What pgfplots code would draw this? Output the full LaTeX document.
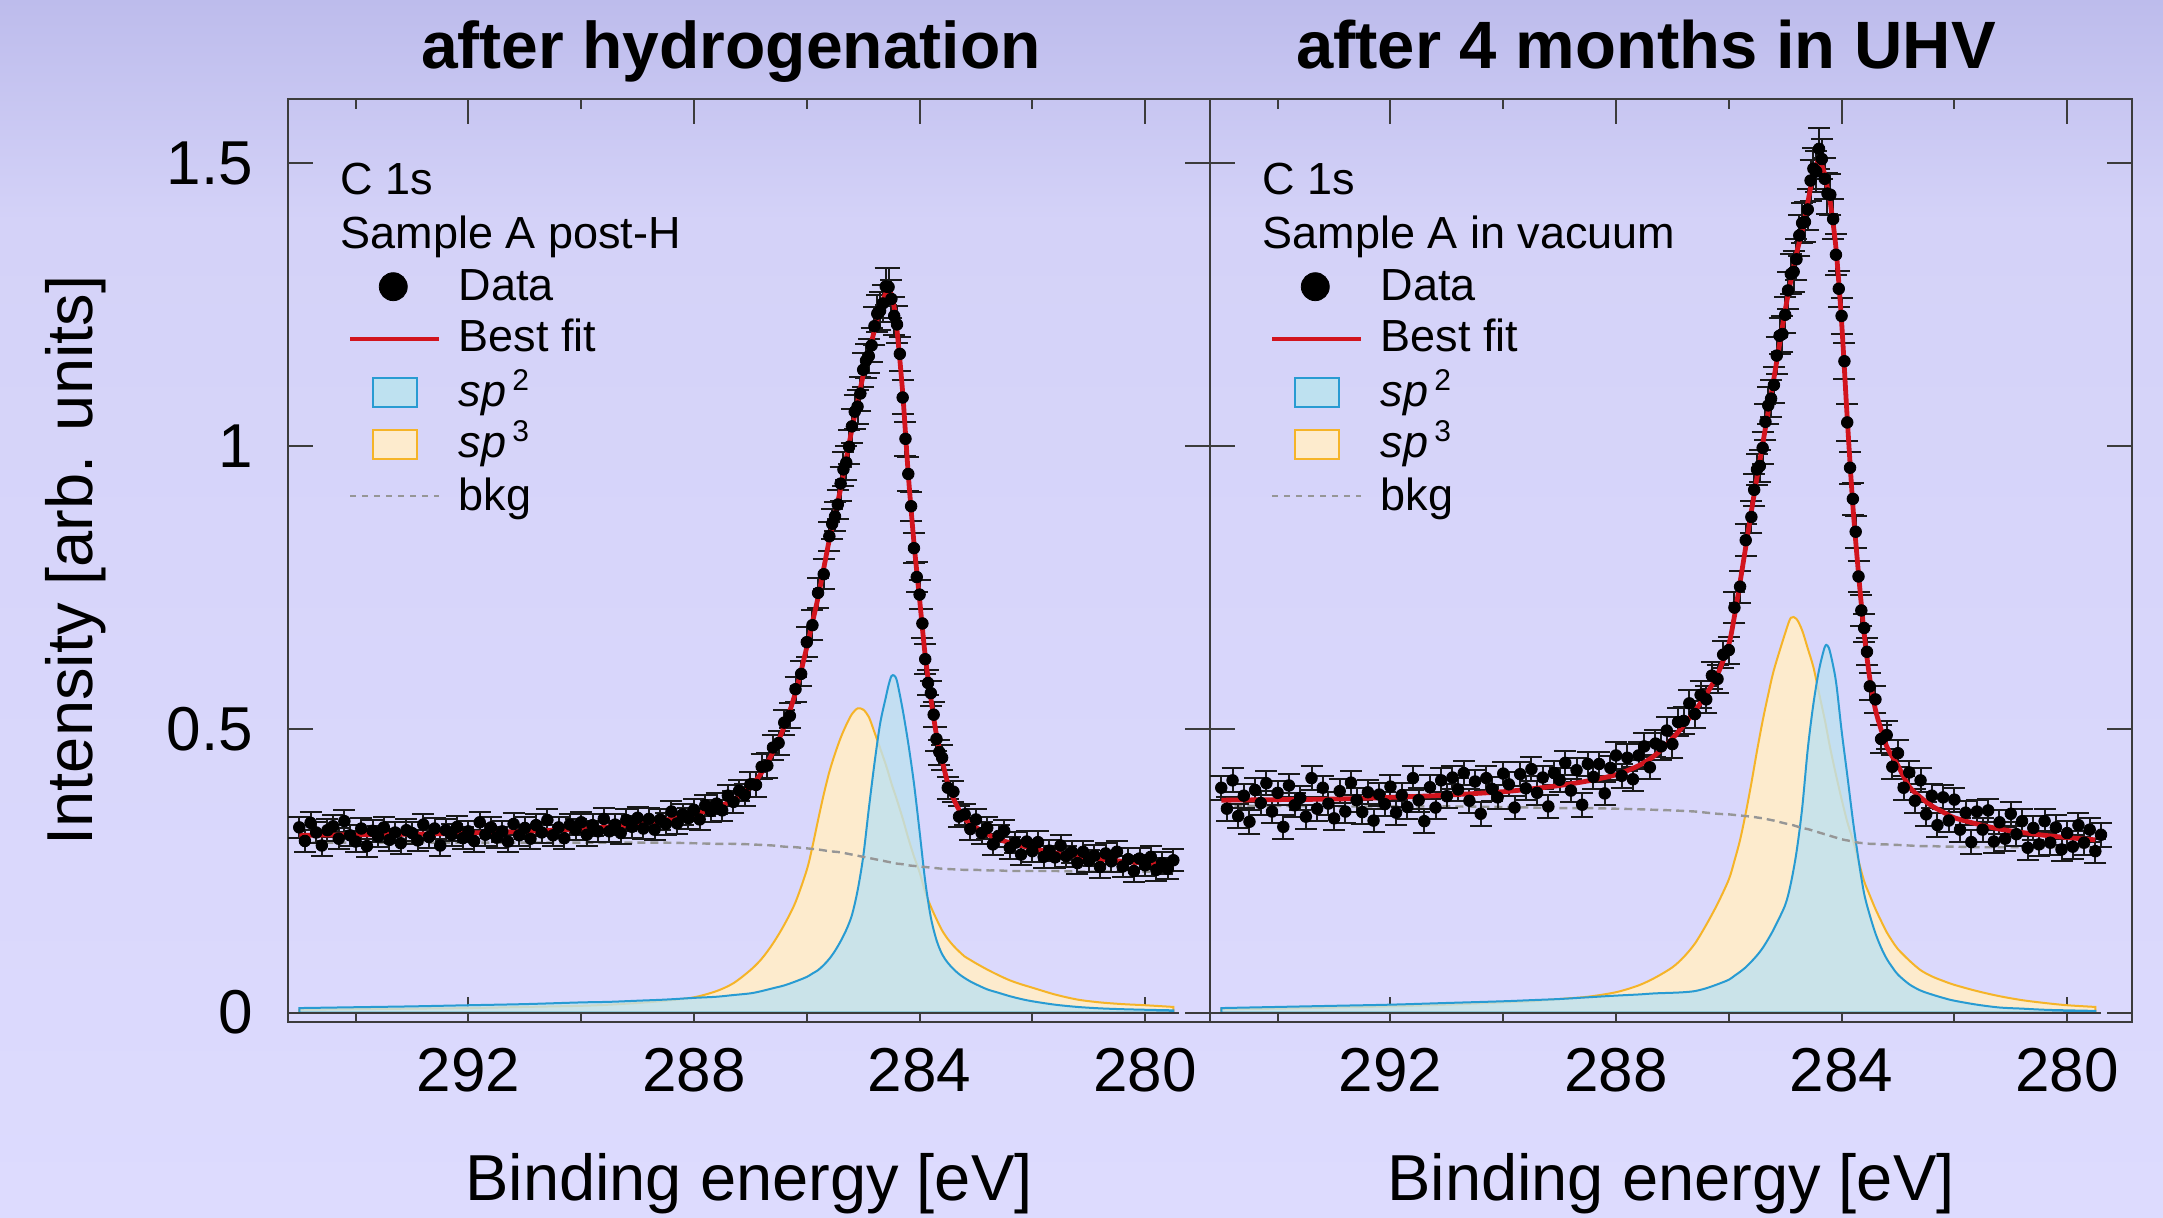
\documentclass[border=0pt]{standalone}
\usepackage{pgfplots}
\pgfplotsset{compat=1.18}
\usepackage{pgfplotstable}
\usepackage{fontspec}
\setmainfont{Liberation Sans}

\definecolor{bgtop}{RGB}{189,188,236}
\definecolor{bgmid}{RGB}{212,210,248}
\definecolor{bgbot}{RGB}{221,219,254}
\definecolor{fitred}{RGB}{210,20,30}
\definecolor{sptwoline}{RGB}{40,155,210}
\definecolor{sptwofill}{RGB}{190,225,240}
\definecolor{spthreeline}{RGB}{245,180,40}
\definecolor{spthreefill}{RGB}{253,235,205}
\definecolor{bkgcol}{RGB}{150,150,150}
\definecolor{framecol}{RGB}{60,60,60}

% ---------- panel 1: fit components ----------
\pgfplotstableread{
x fit bkg sp2 sp3
295.0 0.313 0.300 0.008 0.005
294.0 0.314 0.300 0.0095 0.006
293.0 0.315 0.300 0.011 0.007
292.0 0.317 0.300 0.013 0.008
291.0 0.320 0.300 0.015 0.010
290.0 0.324 0.300 0.018 0.012
289.5 0.328 0.300 0.019 0.014
289.0 0.333 0.300 0.021 0.017
288.5 0.340 0.300 0.023 0.021
288.0 0.350 0.299 0.026 0.027
287.6 0.362 0.298 0.028 0.038
287.3 0.376 0.298 0.031 0.052
287.0 0.398 0.297 0.034 0.075
286.8 0.424 0.296 0.038 0.095
286.6 0.460 0.295 0.043 0.122
286.4 0.505 0.293 0.048 0.155
286.2 0.565 0.292 0.055 0.195
286.0 0.645 0.290 0.063 0.252
285.9 0.689 0.289 0.069 0.293
285.8 0.733 0.288 0.075 0.340
285.7 0.784 0.2865 0.084 0.385
285.6 0.835 0.285 0.095 0.425
285.5 0.880 0.284 0.109 0.457
285.4 0.925 0.283 0.126 0.485
285.3 0.978 0.281 0.146 0.508
285.2 1.030 0.279 0.172 0.527
285.1 1.078 0.277 0.215 0.537
285.0 1.125 0.275 0.275 0.535
284.9 1.165 0.273 0.360 0.522
284.8 1.205 0.271 0.440 0.495
284.7 1.243 0.269 0.510 0.467
284.6 1.270 0.267 0.556 0.438
284.55 1.276 0.266 0.578 0.422
284.5 1.268 0.265 0.594 0.405
284.45 1.245 0.264 0.595 0.390
284.4 1.205 0.263 0.585 0.375
284.3 1.095 0.262 0.535 0.343
284.2 0.950 0.260 0.475 0.308
284.1 0.830 0.259 0.405 0.276
284.0 0.730 0.258 0.320 0.248
283.9 0.630 0.257 0.232 0.213
283.8 0.555 0.256 0.168 0.187
283.7 0.490 0.255 0.128 0.165
283.6 0.445 0.254 0.103 0.145
283.5 0.405 0.2535 0.088 0.130
283.4 0.378 0.253 0.077 0.118
283.3 0.358 0.2525 0.068 0.108
283.2 0.342 0.252 0.061 0.099
283.1 0.334 0.252 0.055 0.093
283.0 0.327 0.252 0.050 0.087
282.8 0.315 0.251 0.041 0.076
282.6 0.306 0.251 0.035 0.066
282.4 0.300 0.250 0.029 0.057
282.2 0.295 0.250 0.024 0.050
282.0 0.290 0.250 0.020 0.044
281.6 0.282 0.250 0.014 0.032
281.2 0.276 0.249 0.010 0.023
280.8 0.271 0.249 0.0075 0.018
280.4 0.267 0.249 0.006 0.015
280.0 0.264 0.249 0.005 0.013
279.5 0.260 0.249 0.004 0.010
}\compA

% ---------- panel 1: data ----------
\pgfplotstableread{
x y e
295.0 0.327 0.019
294.9 0.303 0.019
294.8 0.335 0.019
294.7 0.318 0.019
294.6 0.295 0.019
294.5 0.322 0.019
294.4 0.329 0.019
294.3 0.307 0.019
294.2 0.338 0.019
294.1 0.313 0.019
294.0 0.302 0.019
293.9 0.325 0.019
293.8 0.294 0.019
293.7 0.321 0.019
293.6 0.311 0.019
293.5 0.327 0.019
293.4 0.305 0.019
293.3 0.318 0.019
293.2 0.299 0.019
293.1 0.322 0.019
293.0 0.317 0.019
292.9 0.304 0.019
292.8 0.332 0.019
292.7 0.310 0.019
292.6 0.325 0.019
292.5 0.295 0.019
292.4 0.322 0.019
292.3 0.314 0.019
292.2 0.328 0.019
292.1 0.308 0.019
292.0 0.320 0.019
291.9 0.303 0.019
291.8 0.336 0.019
291.7 0.314 0.019
291.6 0.327 0.019
291.5 0.309 0.019
291.4 0.320 0.019
291.3 0.302 0.019
291.2 0.333 0.019
291.1 0.313 0.019
291.0 0.326 0.019
290.9 0.307 0.019
290.8 0.331 0.019
290.7 0.318 0.019
290.6 0.340 0.019
290.5 0.313 0.019
290.4 0.327 0.019
290.3 0.308 0.019
290.2 0.332 0.019
290.1 0.323 0.019
290.0 0.336 0.019
289.9 0.314 0.019
289.8 0.331 0.019
289.7 0.320 0.019
289.6 0.342 0.019
289.5 0.320 0.019
289.4 0.332 0.019
289.3 0.317 0.019
289.2 0.340 0.019
289.1 0.328 0.019
289.0 0.344 0.019
288.9 0.325 0.019
288.8 0.342 0.019
288.7 0.323 0.019
288.6 0.341 0.019
288.5 0.333 0.019
288.4 0.355 0.019
288.3 0.334 0.019
288.2 0.350 0.019
288.1 0.343 0.019
288.0 0.358 0.019
287.9 0.341 0.019
287.8 0.366 0.019
287.7 0.356 0.019
287.6 0.369 0.019
287.5 0.357 0.019
287.4 0.383 0.019
287.3 0.372 0.019
287.2 0.392 0.019
287.1 0.384 0.019
287.0 0.403 0.022
286.9 0.402 0.022
286.8 0.434 0.022
286.7 0.436 0.022
286.6 0.468 0.022
286.5 0.476 0.022
286.4 0.512 0.022
286.3 0.524 0.022
286.2 0.571 0.022
286.1 0.598 0.022
286.0 0.654 0.026
285.9 0.684 0.026
285.8 0.741 0.026
285.7 0.774 0.026
285.6 0.841 0.026
285.55 0.863 0.026
285.5 0.876 0.026
285.45 0.897 0.026
285.4 0.934 0.030
285.35 0.959 0.030
285.3 0.971 0.030
285.25 0.999 0.030
285.2 1.035 0.030
285.15 1.061 0.030
285.1 1.070 0.030
285.05 1.093 0.030
285.0 1.135 0.030
284.95 1.151 0.030
284.9 1.159 0.030
284.85 1.178 0.030
284.8 1.212 0.033
284.75 1.234 0.033
284.7 1.239 0.033
284.65 1.252 0.033
284.6 1.282 0.033
284.55 1.281 0.033
284.5 1.260 0.033
284.45 1.230 0.033
284.4 1.215 0.033
284.35 1.163 0.030
284.3 1.086 0.030
284.25 1.013 0.030
284.2 0.951 0.030
284.15 0.894 0.026
284.1 0.820 0.026
284.05 0.769 0.026
284.0 0.738 0.026
283.95 0.687 0.026
283.9 0.624 0.026
283.85 0.582 0.022
283.8 0.564 0.022
283.75 0.526 0.022
283.7 0.483 0.022
283.65 0.460 0.022
283.6 0.450 0.022
283.5 0.397 0.019
283.4 0.390 0.019
283.3 0.346 0.019
283.2 0.350 0.019
283.1 0.324 0.019
283.0 0.341 0.019
282.9 0.317 0.019
282.8 0.326 0.019
282.7 0.297 0.019
282.6 0.312 0.019
282.5 0.321 0.019
282.4 0.291 0.019
282.3 0.300 0.019
282.2 0.279 0.019
282.1 0.302 0.019
282.0 0.285 0.019
281.9 0.301 0.019
281.8 0.275 0.019
281.7 0.286 0.019
281.6 0.274 0.019
281.5 0.295 0.019
281.4 0.276 0.019
281.3 0.284 0.019
281.2 0.264 0.019
281.1 0.284 0.019
281.0 0.268 0.019
280.9 0.277 0.019
280.8 0.257 0.019
280.7 0.281 0.019
280.6 0.267 0.019
280.5 0.284 0.019
280.4 0.258 0.019
280.3 0.271 0.019
280.2 0.250 0.019
280.1 0.272 0.019
280.0 0.260 0.019
279.9 0.275 0.019
279.8 0.252 0.019
279.7 0.264 0.019
279.6 0.254 0.019
279.5 0.269 0.019
}\dataA

% ---------- panel 2: fit components ----------
\pgfplotstableread{
x fit bkg sp2 sp3
295.0 0.375 0.365 0.008 0.006
294.0 0.376 0.365 0.010 0.007
293.0 0.377 0.364 0.012 0.009
292.0 0.380 0.364 0.014 0.011
291.0 0.384 0.364 0.017 0.014
290.0 0.390 0.363 0.020 0.018
289.5 0.395 0.362 0.022 0.020
289.0 0.401 0.361 0.024 0.024
288.5 0.409 0.361 0.027 0.028
288.0 0.420 0.360 0.030 0.036
287.6 0.436 0.359 0.032 0.048
287.3 0.455 0.358 0.034 0.062
287.0 0.484 0.357 0.035 0.080
286.8 0.507 0.356 0.036 0.098
286.6 0.533 0.355 0.038 0.122
286.4 0.562 0.353 0.043 0.155
286.2 0.597 0.351 0.050 0.192
286.0 0.650 0.350 0.058 0.235
285.9 0.700 0.349 0.065 0.268
285.8 0.760 0.348 0.072 0.305
285.7 0.822 0.347 0.080 0.352
285.6 0.885 0.346 0.090 0.405
285.5 0.945 0.3445 0.101 0.462
285.4 1.003 0.343 0.114 0.515
285.3 1.062 0.341 0.130 0.562
285.2 1.120 0.339 0.148 0.605
285.0 1.240 0.334 0.190 0.670
284.9 1.292 0.332 0.228 0.697
284.8 1.340 0.329 0.283 0.695
284.7 1.380 0.326 0.360 0.675
284.6 1.430 0.324 0.465 0.643
284.5 1.480 0.321 0.545 0.610
284.4 1.505 0.318 0.605 0.564
284.3 1.480 0.315 0.645 0.518
284.25 1.455 0.314 0.648 0.492
284.2 1.430 0.312 0.635 0.466
284.1 1.350 0.309 0.585 0.420
284.0 1.220 0.306 0.498 0.377
283.9 1.050 0.304 0.420 0.337
283.8 0.895 0.302 0.340 0.305
283.7 0.775 0.300 0.270 0.268
283.6 0.670 0.299 0.210 0.232
283.5 0.590 0.298 0.172 0.207
283.4 0.535 0.298 0.140 0.183
283.3 0.500 0.297 0.115 0.162
283.2 0.470 0.297 0.095 0.142
283.1 0.452 0.296 0.080 0.126
283.0 0.436 0.296 0.067 0.112
282.8 0.399 0.295 0.050 0.092
282.6 0.380 0.294 0.039 0.075
282.4 0.365 0.294 0.032 0.064
282.2 0.354 0.293 0.026 0.056
282.0 0.344 0.293 0.021 0.049
281.6 0.333 0.292 0.014 0.038
281.2 0.324 0.292 0.009 0.029
280.8 0.318 0.292 0.007 0.022
280.4 0.313 0.292 0.005 0.017
280.0 0.309 0.292 0.004 0.013
279.5 0.305 0.292 0.003 0.010
}\compB

% ---------- panel 2: data ----------
\pgfplotstableread{
x y e
295.0 0.397 0.021
294.9 0.360 0.021
294.8 0.410 0.021
294.7 0.347 0.021
294.6 0.383 0.021
294.5 0.337 0.021
294.4 0.393 0.021
294.3 0.370 0.021
294.2 0.405 0.021
294.1 0.355 0.021
294.0 0.388 0.021
293.9 0.328 0.021
293.8 0.401 0.021
293.7 0.366 0.021
293.6 0.379 0.021
293.5 0.346 0.021
293.4 0.414 0.021
293.3 0.360 0.021
293.2 0.397 0.021
293.1 0.369 0.021
293.0 0.343 0.021
292.9 0.391 0.021
292.8 0.355 0.021
292.7 0.406 0.021
292.6 0.375 0.021
292.5 0.354 0.021
292.4 0.389 0.021
292.3 0.339 0.021
292.2 0.385 0.021
292.1 0.368 0.021
292.0 0.399 0.021
291.9 0.353 0.021
291.8 0.384 0.021
291.7 0.363 0.021
291.6 0.414 0.021
291.5 0.375 0.021
291.4 0.338 0.021
291.3 0.398 0.021
291.2 0.362 0.021
291.1 0.410 0.021
291.0 0.382 0.021
290.9 0.415 0.021
290.8 0.394 0.021
290.7 0.423 0.021
290.6 0.374 0.021
290.5 0.408 0.021
290.4 0.351 0.021
290.3 0.414 0.021
290.2 0.395 0.021
290.1 0.380 0.021
290.0 0.422 0.021
289.9 0.403 0.021
289.8 0.362 0.021
289.7 0.421 0.021
289.6 0.396 0.021
289.5 0.430 0.021
289.4 0.388 0.021
289.3 0.415 0.021
289.2 0.364 0.021
289.1 0.423 0.021
289.0 0.411 0.021
288.9 0.441 0.021
288.8 0.392 0.021
288.7 0.428 0.021
288.6 0.367 0.021
288.5 0.439 0.021
288.4 0.416 0.021
288.3 0.439 0.021
288.2 0.387 0.021
288.1 0.432 0.021
288.0 0.454 0.024
287.9 0.418 0.021
287.8 0.450 0.024
287.7 0.412 0.021
287.6 0.454 0.024
287.5 0.470 0.024
287.4 0.433 0.021
287.3 0.475 0.024
287.2 0.470 0.024
287.1 0.498 0.024
287.0 0.474 0.024
286.9 0.513 0.024
286.8 0.515 0.024
286.7 0.546 0.024
286.6 0.527 0.024
286.5 0.561 0.024
286.4 0.553 0.024
286.3 0.595 0.024
286.2 0.589 0.024
286.1 0.632 0.024
286.0 0.640 0.024
285.9 0.715 0.028
285.8 0.752 0.028
285.7 0.834 0.028
285.6 0.875 0.028
285.55 0.923 0.028
285.5 0.959 0.028
285.45 0.965 0.028
285.4 0.997 0.028
285.35 1.043 0.032
285.3 1.072 0.032
285.25 1.084 0.032
285.2 1.108 0.032
285.15 1.160 0.032
285.1 1.195 0.032
285.05 1.198 0.032
285.0 1.232 0.032
284.95 1.275 0.032
284.9 1.304 0.036
284.85 1.308 0.036
284.8 1.330 0.036
284.75 1.372 0.036
284.7 1.394 0.036
284.65 1.396 0.036
284.6 1.418 0.036
284.55 1.469 0.036
284.5 1.490 0.036
284.45 1.485 0.036
284.4 1.525 0.036
284.35 1.507 0.036
284.3 1.472 0.036
284.25 1.446 0.036
284.2 1.444 0.036
284.15 1.401 0.036
284.1 1.338 0.036
284.05 1.278 0.032
284.0 1.230 0.032
283.95 1.150 0.032
283.9 1.042 0.032
283.85 0.962 0.028
283.8 0.907 0.028
283.75 0.849 0.028
283.7 0.770 0.028
283.65 0.710 0.028
283.6 0.679 0.024
283.55 0.637 0.024
283.5 0.576 0.024
283.4 0.553 0.024
283.3 0.483 0.024
283.2 0.490 0.024
283.1 0.434 0.021
283.0 0.458 0.024
282.9 0.397 0.021
282.8 0.424 0.021
282.7 0.374 0.021
282.6 0.410 0.021
282.5 0.350 0.021
282.4 0.383 0.021
282.3 0.331 0.021
282.2 0.380 0.021
282.1 0.339 0.021
282.0 0.376 0.021
281.9 0.323 0.021
281.8 0.353 0.021
281.7 0.301 0.021
281.6 0.355 0.021
281.5 0.323 0.021
281.4 0.357 0.021
281.3 0.302 0.021
281.2 0.336 0.021
281.1 0.307 0.021
281.0 0.351 0.021
280.9 0.315 0.021
280.8 0.338 0.021
280.7 0.291 0.021
280.6 0.326 0.021
280.5 0.297 0.021
280.4 0.338 0.021
280.3 0.300 0.021
280.2 0.327 0.021
280.1 0.288 0.021
280.0 0.317 0.021
279.9 0.293 0.021
279.8 0.331 0.021
279.7 0.300 0.021
279.6 0.323 0.021
279.5 0.285 0.021
279.4 0.314 0.021
}\dataB

\newcommand{\legfont}{\fontsize{22.5}{26}\selectfont}
\newcommand{\labfont}{\fontsize{32.5}{38}\selectfont}
\newcommand{\spsup}[1]{\textit{sp}\hspace{3pt}\raisebox{8.4pt}{\fontsize{15}{15}\selectfont #1}}

\pgfplotsset{
  xpsaxis/.style={
    scale only axis, width=461pt, height=461.5pt,
    xmin=278.85, xmax=295.2, x dir=reverse,
    ymin=-0.0166, ymax=1.613,
    xtick={280,284,288,292}, minor xtick={282,286,290,294},
    ytick={0,0.5,1,1.5},
    tick align=inside,
    major tick length=12.5pt, minor tick length=5pt,
    tick style={framecol, line width=1pt},
    axis line style={framecol, line width=1pt},
    tick label style={font=\fontsize{31}{36}\selectfont},
    /pgf/number format/assume math mode=true,
    xticklabel style={yshift=-9.5pt},
    yticklabel style={xshift=-14pt},
    xlabel={Binding energy [eV]},
    every axis x label/.style={at={(axis description cs:0.5,-0.19285)}, anchor=base, font=\labfont},
  },
  databars/.style={forget plot, only marks, mark=*, mark size=2.9pt, black,
    error bars/.cd, y dir=both, y explicit, error mark=|,
    error bar style={black!90, line width=1pt},
    error mark options={black!90, line width=1pt, mark size=5.5pt}},
}

% legend symbols, drawn through the axis (positions in axis units)
\newcommand{\legendsymbols}{%
  \addplot[forget plot, only marks, mark=*, mark size=7pt, black] coordinates {(293.333,1.2816)};
  \addplot[forget plot, fitred, line width=2pt] coordinates {(294.10,1.1898) (292.52,1.1898)};
  \addplot[forget plot, draw=sptwoline, fill=sptwofill, line width=1pt] coordinates {(293.698,1.0692) (292.918,1.0692) (292.918,1.1204) (293.698,1.1204)} -- cycle;
  \addplot[forget plot, draw=spthreeline, fill=spthreefill, line width=1pt] coordinates {(293.698,0.9774) (292.918,0.9774) (292.918,1.0286) (293.698,1.0286)} -- cycle;
  \addplot[forget plot, bkgcol, line width=0.6pt, dash pattern=on 3pt off 3pt] coordinates {(294.10,0.9121) (292.52,0.9121)};
  \node[anchor=base west, font=\legfont] at (axis description cs:0.1776,0.7822) {Data};
  \node[anchor=base west, font=\legfont] at (axis description cs:0.1776,0.7262) {Best fit};
  \node[anchor=base west, font=\legfont] at (axis description cs:0.1776,0.6663) {\spsup{2}};
  \node[anchor=base west, font=\legfont] at (axis description cs:0.1776,0.6111) {\spsup{3}};
  \node[anchor=base west, font=\legfont] at (axis description cs:0.1776,0.5547) {bkg};
}

\begin{document}
\begin{tikzpicture}
\path[use as bounding box] (0,0) rectangle (1081.5pt,608.5pt);
\shade[top color=bgtop, bottom color=bgmid] (0,498pt) rectangle (1081.5pt,608.5pt);
\shade[top color=bgmid, bottom color=bgbot] (0,0) rectangle (1081.5pt,498.5pt);

\node[anchor=base, font=\fontsize{33}{38}\selectfont\bfseries] at (365.5pt,574pt) {after hydrogenation};
\node[anchor=base, font=\fontsize{33.5}{38}\selectfont\bfseries] at (823pt,574pt) {after 4 months in UHV};

% ---------------- left panel ----------------
\begin{axis}[xpsaxis, at={(144pt,97.5pt)}, anchor=south west,
  ylabel={Intensity [arb. units]},
  every axis y label/.style={at={(axis description cs:-0.2299,0.5)}, rotate=90, anchor=center, font=\labfont}]
\addplot[forget plot, smooth, draw=spthreeline, fill=spthreefill, line width=1pt] table[x=x, y=sp3] {\compA} \closedcycle;
\addplot[forget plot, smooth, draw=sptwoline, fill=sptwofill, fill opacity=0.8, line width=1pt] table[x=x, y=sp2] {\compA} \closedcycle;
\addplot[forget plot, framecol, line width=1pt] coordinates {(295.1,0) (279.4,0)};
\addplot[forget plot, smooth, bkgcol, line width=1.2pt, dash pattern=on 4pt off 2.5pt] table[x=x, y=bkg] {\compA};
\addplot[databars] table[x=x, y=y, y error=e] {\dataA};
\addplot[forget plot, smooth, fitred, line width=2.4pt] table[x=x, y=fit] {\compA};
\legendsymbols
\node[anchor=base west, font=\legfont] at (axis description cs:0.0496,0.896) {C 1s};
\node[anchor=base west, font=\legfont] at (axis description cs:0.0496,0.8382) {Sample A post-H};
\end{axis}

% ---------------- right panel ----------------
\begin{axis}[xpsaxis, at={(605pt,97.5pt)}, anchor=south west, yticklabels={}]
\addplot[forget plot, smooth, draw=spthreeline, fill=spthreefill, line width=1pt] table[x=x, y=sp3] {\compB} \closedcycle;
\addplot[forget plot, smooth, draw=sptwoline, fill=sptwofill, fill opacity=0.8, line width=1pt] table[x=x, y=sp2] {\compB} \closedcycle;
\addplot[forget plot, framecol, line width=1pt] coordinates {(295.1,0) (279.4,0)};
\addplot[forget plot, smooth, bkgcol, line width=1.2pt, dash pattern=on 4pt off 2.5pt] table[x=x, y=bkg] {\compB};
\addplot[databars] table[x=x, y=y, y error=e] {\dataB};
\addplot[forget plot, smooth, fitred, line width=2.4pt] table[x=x, y=fit] {\compB};
\legendsymbols
\node[anchor=base west, font=\legfont] at (axis description cs:0.0496,0.896) {C 1s};
\node[anchor=base west, font=\legfont] at (axis description cs:0.0496,0.8382) {Sample A in vacuum};
\end{axis}
\end{tikzpicture}
\end{document}
